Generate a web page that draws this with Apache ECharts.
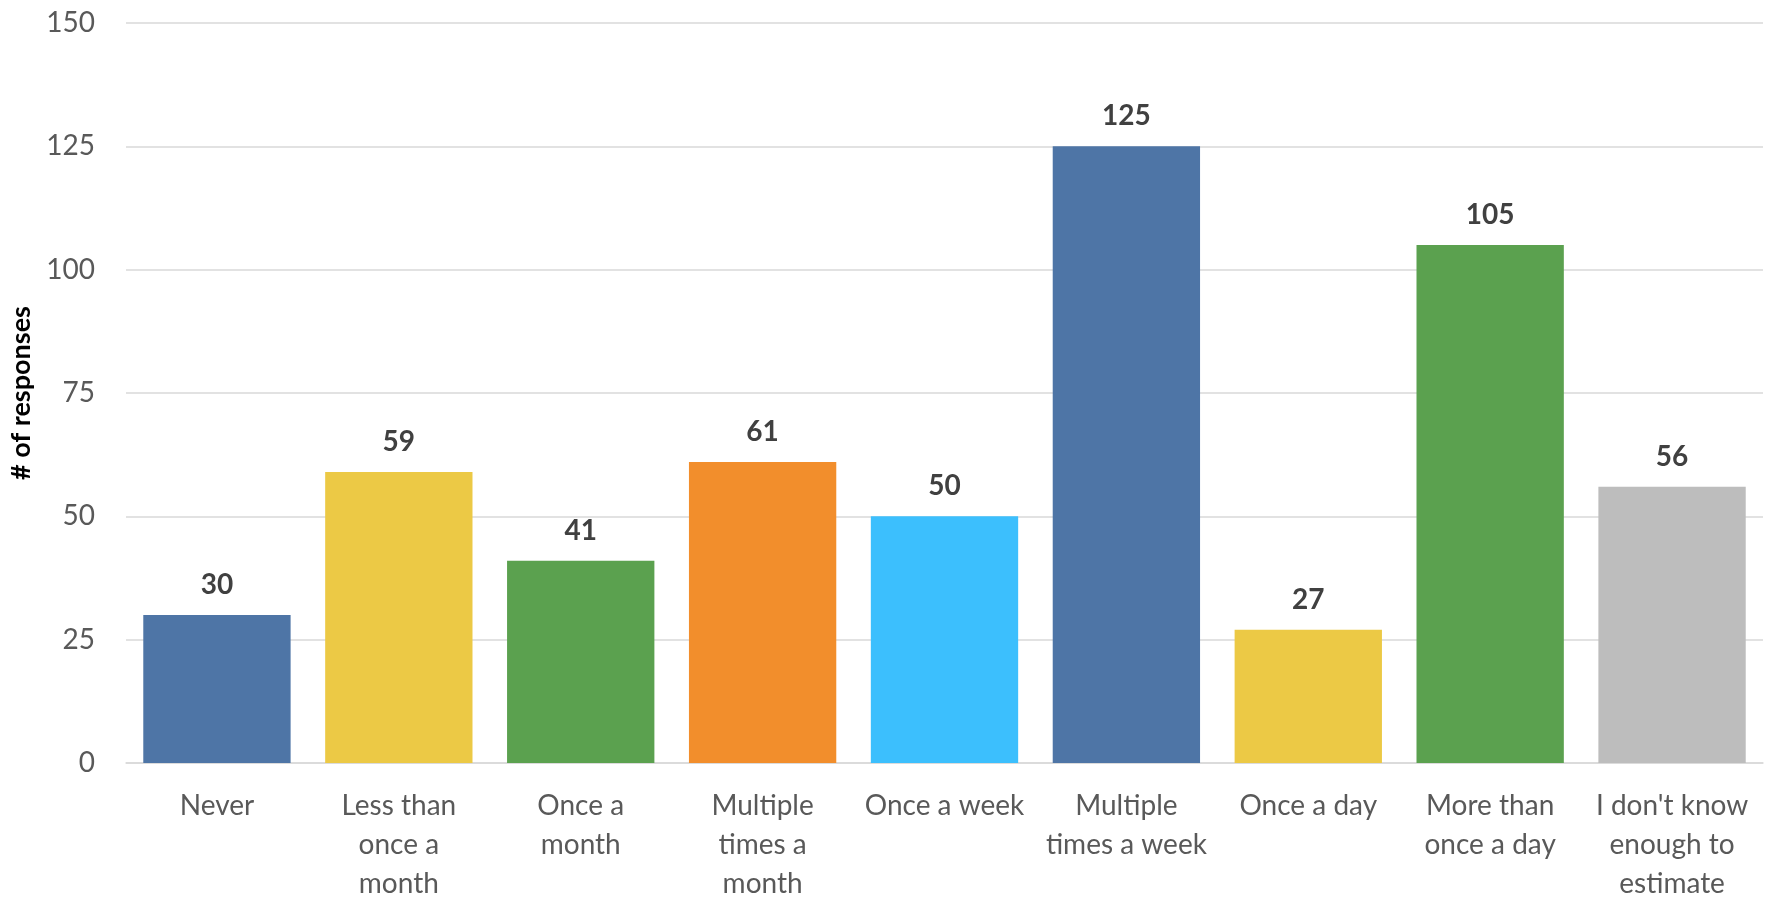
<!DOCTYPE html>
<html>
<head>
<meta charset="utf-8">
<script src="https://cdn.jsdelivr.net/npm/echarts@6/dist/echarts.min.js"></script>
<style>
  html, body { margin: 0; padding: 0; background: #fff; }
  #chart { width: 1772px; height: 905px; }
</style>
</head>
<body>
<div id="chart"></div>
<script>
  // categories (line breaks as in the picture)
  var categories = [
    'Never',
    'Less than\nonce a\nmonth',
    'Once a\nmonth',
    'Multiple\ntimes a\nmonth',
    'Once a week',
    'Multiple\ntimes a week',
    'Once a day',
    'More than\nonce a day',
    "I don't know\nenough to\nestimate"
  ];
  var responses = [30, 59, 41, 61, 50, 125, 27, 105, 56];
  var barColors = ['#4e75a6', '#ecc945', '#5ba14f', '#f28e2c', '#3cbffd', '#4e75a6', '#ecc945', '#5ba14f', '#bdbdbd'];
  var yTicks = { min: 0, max: 150, interval: 25 };

  var chart = echarts.init(document.getElementById('chart'));
  var font = 'Lato, "Open Sans", sans-serif';

  var option = {
    animation: false,
    grid: {
      left: 126,
      right: 9,
      top: 23,
      bottom: 142,
      containLabel: false,
      outerBoundsMode: 'none'
    },
    xAxis: {
      type: 'category',
      data: categories,
      axisLine: { show: true, lineStyle: { color: '#d9d9d9', width: 1.5 } },
      axisTick: { show: false },
      axisLabel: {
        interval: 0,
        margin: 23,
        color: '#595959',
        fontFamily: font,
        fontSize: 28,
        lineHeight: 39
      }
    },
    yAxis: {
      type: 'value',
      min: yTicks.min,
      max: yTicks.max,
      interval: yTicks.interval,
      name: '# of responses',
      nameLocation: 'middle',
      nameRotate: 90,
      nameGap: 91,
      nameTextStyle: {
        color: '#000',
        fontFamily: font,
        fontSize: 27,
        fontWeight: 'bold'
      },
      axisLine: { show: false },
      axisTick: { show: false },
      axisLabel: {
        margin: 31,
        color: '#595959',
        fontFamily: font,
        fontSize: 28
      },
      splitLine: {
        show: true,
        lineStyle: { color: '#d9d9d9', width: 1.5 }
      }
    },
    series: [{
      type: 'bar',
      barCategoryGap: '19%',
      data: responses.map(function (v, i) {
        return { value: v, itemStyle: { color: barColors[i] } };
      }),
      label: {
        show: true,
        position: 'top',
        distance: 16,
        color: '#404040',
        fontFamily: font,
        fontSize: 28,
        fontWeight: 'bold'
      }
    }]
  };

  chart.setOption(option);
</script>
</body>
</html>
